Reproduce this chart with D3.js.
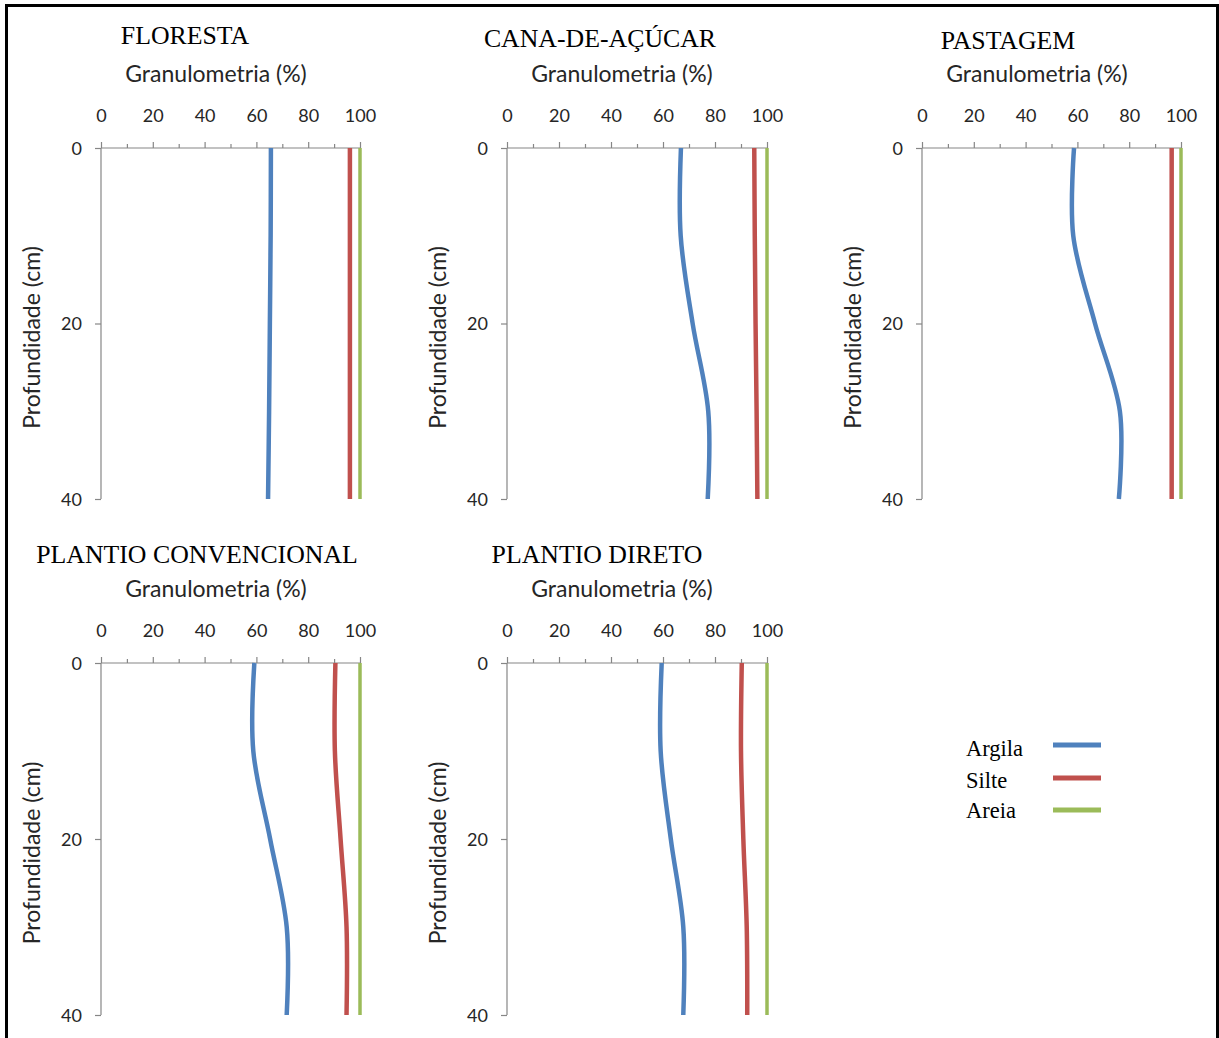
<!DOCTYPE html>
<html><head><meta charset="utf-8">
<script src="https://cdn.jsdelivr.net/npm/d3@7"></script>
<style>
html,body{margin:0;padding:0;background:#fff;}
svg{display:block;}
</style></head>
<body>
<script>
// ---- data ----
const depths = [0, 10, 20, 30, 40];
const panelNames = ["FLORESTA", "CANA-DE-AÇÚCAR", "PASTAGEM", "PLANTIO CONVENCIONAL", "PLANTIO DIRETO"];
const argila = [
  [65.6, 65.5, 65.2, 64.9, 64.5],
  [66.9, 66.8, 71.4, 77.4, 77.2],
  [58.7, 58.4, 66.8, 76.4, 76.0],
  [59.2, 58.8, 65.3, 71.7, 71.7],
  [59.5, 59.1, 63.0, 67.8, 67.8]
];
const silte = [
  [96.1, 96.1, 96.1, 96.1, 96.1],
  [95.1, 95.3, 95.6, 96.0, 96.3],
  [96.4, 96.4, 96.4, 96.4, 96.4],
  [90.5, 90.3, 92.5, 94.8, 94.8],
  [90.3, 90.0, 90.9, 92.2, 92.4]
];
const areia = [
  [100, 100, 100, 100, 100],
  [100, 100, 100, 100, 100],
  [100, 100, 100, 100, 100],
  [100, 100, 100, 100, 100],
  [100, 100, 100, 100, 100]
];
const seriesNames = ["Argila", "Silte", "Areia"];
const xTicks = [0, 20, 40, 60, 80, 100];
const xMinorTicks = [10, 30, 50, 70, 90];
const yTicks = [0, 20, 40];
const xTitle = "Granulometria (%)";
const yTitle = "Profundidade (cm)";

// ---- layout ----
const W = 1219, H = 1038;
const colors = ["#4f81bd", "#c0504d", "#9bbb59"];
const widths = [4.5, 4.5, 3.5];
const layout = [
  {x0: 101, y0: 148, w: 259, h: 351, tx: 185, ty: 44},
  {x0: 507, y0: 148, w: 260, h: 351, tx: 600, ty: 47},
  {x0: 922, y0: 148, w: 259, h: 351, tx: 1008, ty: 49},
  {x0: 101, y0: 663, w: 259, h: 352, tx: 197, ty: 563},
  {x0: 507, y0: 663, w: 260, h: 352, tx: 597, ty: 563}
];
const sansFont = "Lato, 'Open Sans', sans-serif";
const serifFont = "'Liberation Serif', 'Times New Roman', serif";

const svg = d3.select("body").append("svg").attr("width", W).attr("height", H);
svg.append("rect").attr("width", W).attr("height", H).attr("fill", "#fff");
svg.append("rect").attr("x", 6.5).attr("y", 5.5).attr("width", 1211).attr("height", 1200)
  .attr("fill", "none").attr("stroke", "#000").attr("stroke-width", 3);

const allSeries = [argila, silte, areia];

panelNames.forEach((name, i) => {
  const L = layout[i];
  const x = d3.scaleLinear().domain([0, 100]).range([L.x0, L.x0 + L.w]);
  const y = d3.scaleLinear().domain([0, 40]).range([L.y0, L.y0 + L.h]);
  const g = svg.append("g");

  // title
  g.append("text").attr("x", L.tx).attr("y", L.ty).attr("text-anchor", "middle")
    .attr("font-family", serifFont).attr("font-size", 25.8).attr("fill", "#000").text(name);
  // x axis title
  g.append("text").attr("x", L.x0 + 115).attr("y", L.y0 - 66).attr("text-anchor", "middle")
    .attr("font-family", sansFont).attr("font-size", 23).attr("fill", "#262626").text(xTitle);
  // y axis title
  g.append("text").attr("transform", `translate(${L.x0 - 61},${L.y0 + L.h / 2 + 14}) rotate(-90)`)
    .attr("text-anchor", "middle")
    .attr("font-family", sansFont).attr("font-size", 23).attr("fill", "#262626").text(yTitle);

  // x axis (top) with minor ticks
  const xAxis = d3.axisTop(x).tickValues(xTicks).tickSize(6).tickPadding(20).tickFormat(d3.format("d"));
  const xg = g.append("g").attr("transform", `translate(0,${L.y0})`).call(xAxis);
  const xm = g.append("g").attr("transform", `translate(0,${L.y0})`)
    .call(d3.axisTop(x).tickValues(xMinorTicks).tickSize(4).tickFormat(""));
  xm.select(".domain").remove();
  // y axis (left)
  const yAxis = d3.axisLeft(y).tickValues(yTicks).tickSize(6).tickPadding(13).tickFormat(d3.format("d"));
  const yg = g.append("g").attr("transform", `translate(${L.x0},0)`).call(yAxis);

  [xg, xm, yg].forEach(a => {
    a.selectAll(".domain").attr("stroke", "#868686").attr("stroke-width", 1.2);
    a.selectAll(".tick line").attr("stroke", "#868686").attr("stroke-width", 1.2);
    a.selectAll(".tick text").attr("font-family", sansFont).attr("font-size", 18).attr("fill", "#262626");
  });
  xg.select(".domain").attr("d", `M${L.x0},0H${L.x0 + L.w}`);
  yg.select(".domain").attr("d", `M0,${L.y0}V${L.y0 + L.h}`);
  yg.selectAll(".tick text").attr("dy", "0.35em");

  // lines
  const line = d3.line().x(d => x(d[1])).y(d => y(d[0])).curve(d3.curveCardinal.tension(0));
  allSeries.forEach((s, k) => {
    const pts = depths.map((d, j) => [d, s[i][j]]);
    g.append("path").attr("d", line(pts)).attr("fill", "none")
      .attr("stroke", colors[k]).attr("stroke-width", widths[k]);
  });
});

// legend
const legY = [756, 788, 818];
const legLineY = [745, 778, 810];
seriesNames.forEach((n, k) => {
  svg.append("text").attr("x", 966).attr("y", legY[k]).attr("font-family", serifFont)
    .attr("font-size", 22.5).attr("fill", "#000").text(n);
  svg.append("line").attr("x1", 1053).attr("x2", 1101).attr("y1", legLineY[k]).attr("y2", legLineY[k])
    .attr("stroke", colors[k]).attr("stroke-width", 5);
});
</script>
</body></html>
